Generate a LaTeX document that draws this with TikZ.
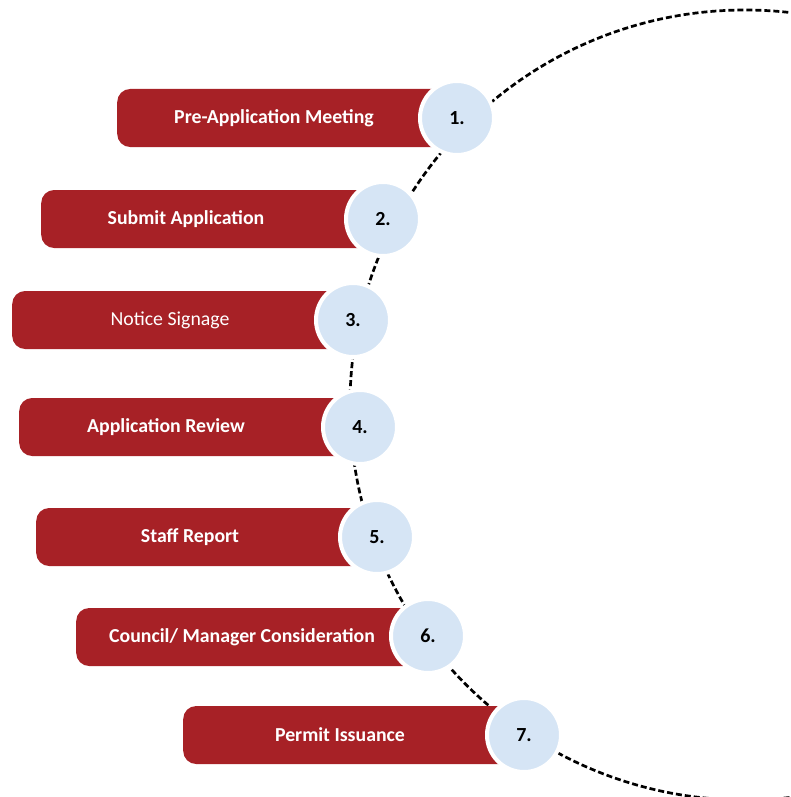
\documentclass[tikz,border=0pt]{standalone}
\usepackage{fontspec}
\setmainfont{Carlito}
\definecolor{barred}{RGB}{167,33,38}
\definecolor{numblue}{RGB}{214,229,245}
\tikzset{
  bar/.style={fill=barred, rounded corners=13pt, minimum height=58pt, inner sep=0pt, anchor=west, draw=none},
  bartext/.style={text=white, font=\fontsize{19.8}{23}\selectfont\bfseries, inner sep=0pt},
  bartextreg/.style={text=white, font=\fontsize{19.8}{23}\selectfont, inner sep=0pt},
  numc/.style={circle, fill=numblue, draw=white, line width=4pt, minimum size=74pt, inner sep=0pt, font=\fontsize{20}{23}\selectfont\bfseries, text=black},
  ring/.style={draw=black, line width=2.7pt, dash pattern=on 6pt off 3pt}
}
\begin{document}
\begin{tikzpicture}[x=1pt,y=-1pt]
\useasboundingbox (0,0) rectangle (791,797);
\begin{scope}
\clip (0,0) rectangle (791,797);
\draw[ring] (745,405) circle[radius=395];
\end{scope}
% bars
\node[bar, minimum width=328pt] (b1) at (117,118) {};
\node[bar, minimum width=330pt] (b2) at (41,219) {};
\node[bar, minimum width=329pt] (b3) at (12,320) {};
\node[bar, minimum width=329pt] (b4) at (19,427) {};
\node[bar, minimum width=329pt] (b5) at (36,537) {};
\node[bar, minimum width=340pt] (b6) at (76,637) {};
\node[bar, minimum width=329pt] (b7) at (183,735) {};
% texts
\node[bartext] (t1) at (274,118) {Pre-Application Meeting};
\node[bartext] (t2) at (186,219) {Submit Application};
\node[bartextreg] (t3) at (170,320) {Notice Signage};
\node[bartext] (t4) at (166,427) {Application Review};
\node[bartext] (t5) at (190,537) {Staff Report};
\node[bartext] (t6) at (242,637) {Council/ Manager Consideration};
\node[bartext] (t7) at (340,735) {Permit Issuance};
% number circles
\node[numc] (n1) at (457,118) {1.};
\node[numc] (n2) at (383,219) {2.};
\node[numc] (n3) at (353,320) {3.};
\node[numc] (n4) at (360,427) {4.};
\node[numc] (n5) at (377,537) {5.};
\node[numc] (n6) at (428,636) {6.};
\node[numc] (n7) at (524,735) {7.};
\end{tikzpicture}
\end{document}
